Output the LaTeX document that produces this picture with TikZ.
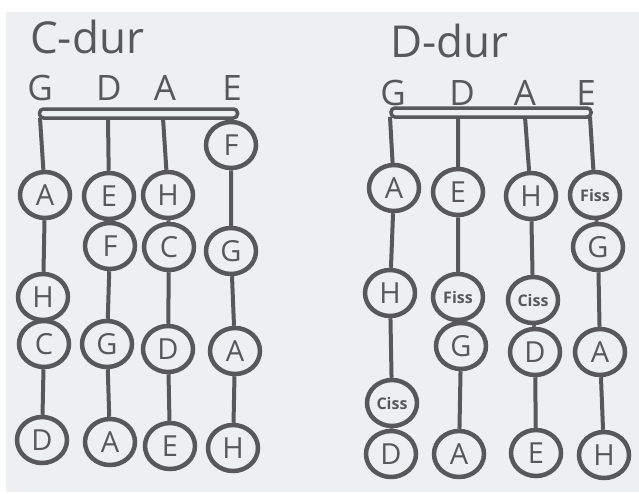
\documentclass[tikz,border=0pt]{standalone}
\usepackage{fontspec}
\setmainfont{Open Sans}
\usetikzlibrary{shapes.geometric}
\definecolor{bg}{RGB}{238,239,241}
\definecolor{ink}{RGB}{88,88,90}
\begin{document}
\begin{tikzpicture}[x=1pt,y=-1pt,
 note/.style={draw=ink,line width=4.5pt,fill=bg,ellipse,minimum width=50pt,minimum height=46pt,inner sep=0pt,text=ink,font=\fontsize{29}{29}\selectfont},
 small/.style={note,font=\fontsize{16}{16}\selectfont\bfseries},
 string/.style={draw=ink,line width=4pt},
 nut/.style={draw=ink,line width=3.5pt,fill=bg,rounded corners=4pt,rectangle,inner sep=0pt,minimum height=9pt},
 lab/.style={text=ink,font=\fontsize{35}{35}\selectfont,anchor=base},
 ttl/.style={text=ink,font=\fontsize{44}{44}\selectfont,anchor=base west,inner sep=0pt}]
\useasboundingbox (0,0) rectangle (639,493);
\fill[white] (0,0) rectangle (639,493);
\fill[bg] (6,12) rectangle (639,492);

% ---------- C-dur ----------
\node[ttl] (t1) at (30,53) {C-dur};
\node[lab] (lG) at (40,100) {G};
\node[lab] (lD) at (109,100) {D};
\node[lab] (lA) at (165,100) {A};
\node[lab] (lE) at (232,100) {E};
\node[nut,minimum width=198pt] (nut1) at (138.5,113.5) {};
\coordinate (sG) at (40,118);
\coordinate (sD) at (108,118);
\coordinate (sA) at (163,118);
\coordinate (sE) at (229,118);

\node[note] (F1) at (231,145) {F};
\node[note] (A1) at (45,195) {A};
\node[note] (E1) at (109,196) {E};
\node[note] (H1) at (168,195) {H};
\node[note] (F2) at (110,246) {F};
\node[note] (C1) at (169,247) {C};
\node[note] (G1) at (231,251) {G};
\node[note] (H2) at (43,297) {H};
\node[note] (C2) at (44,344) {C};
\node[note] (G2) at (107,344) {G};
\node[note] (D1) at (168,349) {D};
\node[note] (A2) at (235,351) {A};
\node[note] (D2) at (42,440) {D};
\node[note] (A3) at (110,442) {A};
\node[note] (E2) at (170,446) {E};
\node[note] (H3) at (233,448) {H};

\draw[string] (sG) -- (A1) -- (H2) -- (C2) -- (D2);
\draw[string] (sD) -- (E1) -- (F2) -- (G2) -- (A3);
\draw[string] (sA) -- (H1) -- (C1) -- (D1) -- (E2);
\draw[string] (sE) -- (F1) -- (G1) -- (A2) -- (H3);

% ---------- D-dur ----------
\node[ttl] (t2) at (390,57) {D-dur};
\node[lab] (rlG) at (393,105) {G};
\node[lab] (rlD) at (462,105) {D};
\node[lab] (rlA) at (525,105) {A};
\node[lab] (rlE) at (586,105) {E};
\node[nut,minimum width=200pt] (nut2) at (491,112.5) {};
\coordinate (rsG) at (390,117);
\coordinate (rsD) at (458,117);
\coordinate (rsA) at (525,117);
\coordinate (rsE) at (590,117);

\node[note] (rA1) at (394,188) {A};
\node[note] (rE1) at (458,192) {E};
\node[note] (rH1) at (531,196) {H};
\node[small] (rFis1) at (595,195) {Fiss};
\node[note] (rG1) at (598,247) {G};
\node[note] (rH2) at (390,293) {H};
\node[small] (rFis2) at (458,297) {Fiss};
\node[small] (rCis1) at (533,300) {Ciss};
\node[note] (rG2) at (461,346) {G};
\node[note] (rD1) at (535,352) {D};
\node[note] (rA2) at (600,352) {A};
\node[small] (rCis2) at (392,403) {Ciss};
\node[note] (rD2) at (391,454) {D};
\node[note] (rA3) at (459,454) {A};
\node[note] (rE2) at (536,453) {E};
\node[note] (rH3) at (604,455) {H};

\draw[string] (rsG) -- (rA1) -- (rH2) -- (rCis2) -- (rD2);
\draw[string] (rsD) -- (rE1) -- (rFis2) -- (rG2) -- (rA3);
\draw[string] (rsA) -- (rH1) -- (rCis1) -- (rD1) -- (rE2);
\draw[string] (rsE) -- (rFis1) -- (rG1) -- (rA2) -- (rH3);
\end{tikzpicture}
\end{document}
